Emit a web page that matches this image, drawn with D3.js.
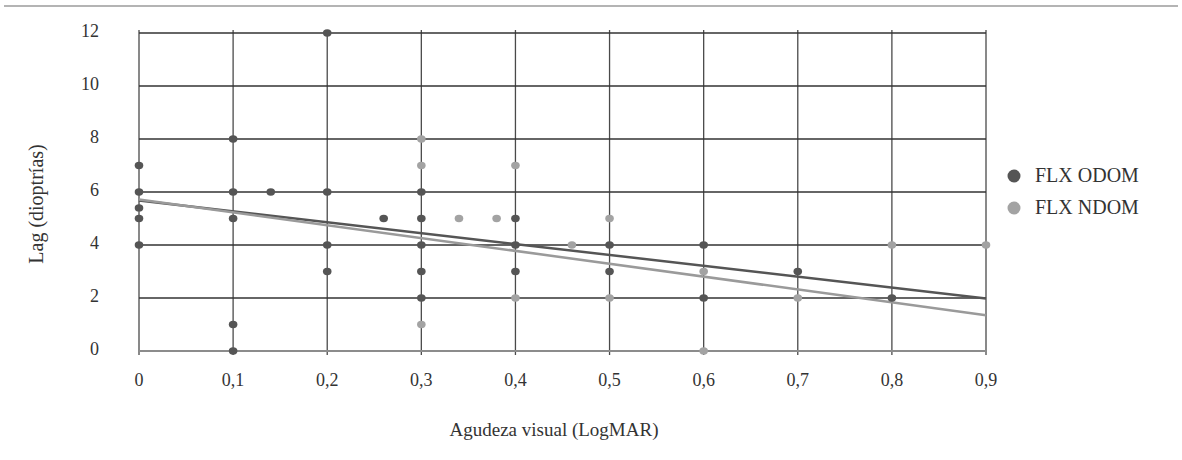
<!DOCTYPE html>
<html>
<head>
<meta charset="utf-8">
<script src="https://cdn.jsdelivr.net/npm/d3@7"></script>
<style>
  body { margin: 0; background: #fff; }
</style>
</head>
<body>
<script>
const width = 1182;
const height = 460;
const FONT = "Liberation Serif";

// FLX ODOM (dark points)
const odomX = [0, 0, 0, 0, 0, 0.1, 0.1, 0.1, 0.1, 0.1, 0.14, 0.2, 0.2, 0.2, 0.2, 0.26,
               0.3, 0.3, 0.3, 0.3, 0.3, 0.4, 0.4, 0.4, 0.5, 0.5, 0.6, 0.6, 0.7, 0.8];
const odomY = [7, 6, 5.4, 5, 4, 8, 6, 5, 1, 0, 6, 12, 6, 4, 3, 5,
               6, 5, 4, 3, 2, 5, 4, 3, 4, 3, 4, 2, 3, 2];
// FLX NDOM (light points)
const ndomX = [0.3, 0.3, 0.3, 0.34, 0.38, 0.4, 0.4, 0.46, 0.5, 0.5, 0.6, 0.6, 0.7, 0.8, 0.9];
const ndomY = [8, 7, 1, 5, 5, 7, 2, 4, 5, 2, 3, 0, 2, 4, 4];

// trend lines: [x, y] at both ends
const odomTrend = [[0, 5.68], [0.9, 1.98]];
const ndomTrend = [[0, 5.72], [0.9, 1.35]];

const xTicks = [0, 0.1, 0.2, 0.3, 0.4, 0.5, 0.6, 0.7, 0.8, 0.9];
const yTicks = [0, 2, 4, 6, 8, 10, 12];
const seriesNames = ['FLX ODOM', 'FLX NDOM'];
const colors = ['#555555', '#a3a3a3'];

const svg = d3.select('body').append('svg').attr('width', width).attr('height', height)
  .style('font-family', FONT);

// thin rule at the top
svg.append('line')
  .attr('x1', 4).attr('x2', 1178).attr('y1', 6).attr('y2', 6)
  .style('stroke', '#b4b4b4').style('stroke-width', 2);

const xs = d3.scaleLinear().domain([0, 0.9]).range([139, 986]);
const ys = d3.scaleLinear().domain([0, 12]).range([351, 33]);
const fmt = d => d === 0 ? '0' : d3.format('.1f')(d).replace('.', ',');

const g = svg.append('g');

// vertical grid lines
g.selectAll('.vgrid')
  .data(xTicks)
  .enter()
  .append('line')
  .attr('class', 'vgrid')
  .attr('x1', d => xs(d)).attr('x2', d => xs(d))
  .attr('y1', ys(12) - 3).attr('y2', ys(0) + 4)
  .style('stroke', '#4a4a4a').style('stroke-width', 1.3);

// horizontal grid lines
g.selectAll('.hgrid')
  .data(yTicks.filter(d => d > 0))
  .enter()
  .append('line')
  .attr('class', 'hgrid')
  .attr('x1', xs(0)).attr('x2', xs(0.9))
  .attr('y1', d => ys(d)).attr('y2', d => ys(d))
  .style('stroke', '#333').style('stroke-width', 1.3);

// bottom axis line
g.append('line')
  .attr('x1', xs(0)).attr('x2', xs(0.9))
  .attr('y1', ys(0)).attr('y2', ys(0))
  .style('stroke', '#8c8c8c').style('stroke-width', 2);

// tick labels
g.selectAll('.xlab')
  .data(xTicks)
  .enter()
  .append('text')
  .attr('x', d => xs(d))
  .attr('y', 386)
  .attr('text-anchor', 'middle')
  .style('font-family', FONT)
  .style('font-size', '18px')
  .style('fill', '#333')
  .text(fmt);

g.selectAll('.ylab')
  .data(yTicks)
  .enter()
  .append('text')
  .attr('x', 99)
  .attr('y', d => ys(d) + 4)
  .attr('text-anchor', 'end')
  .style('font-family', FONT)
  .style('font-size', '18px')
  .style('fill', '#333')
  .text(d => d);

// axis titles
svg.append('text')
  .attr('x', 554).attr('y', 436)
  .attr('text-anchor', 'middle')
  .style('font-family', FONT)
  .style('font-size', '19px')
  .style('fill', '#333')
  .text('Agudeza visual (LogMAR)');

svg.append('text')
  .attr('transform', 'translate(43,204) rotate(-90)')
  .attr('text-anchor', 'middle')
  .style('font-family', FONT)
  .style('font-size', '20px')
  .style('fill', '#333')
  .text('Lag (dioptrías)');

// trend lines
const line = d3.line().x(d => xs(d[0])).y(d => ys(d[1]));
[odomTrend, ndomTrend].forEach(function(t, i) {
  g.append('path')
    .attr('d', line(t))
    .style('fill', 'none')
    .style('stroke', i === 0 ? '#555555' : '#9a9a9a')
    .style('stroke-width', 2.5);
});

// points
function drawPoints(xv, yv, col) {
  g.selectAll(null)
    .data(xv.map((x, i) => ({x: x, y: yv[i]})))
    .enter()
    .append('ellipse')
    .attr('cx', d => xs(d.x))
    .attr('cy', d => ys(d.y))
    .attr('rx', 4.3).attr('ry', 3.7)
    .style('fill', col);
}
drawPoints(ndomX, ndomY, colors[1]);
drawPoints(odomX, odomY, colors[0]);

// legend
const leg = svg.append('g');
leg.selectAll('circle')
  .data(seriesNames)
  .enter()
  .append('circle')
  .attr('cx', 1014)
  .attr('cy', (d, i) => 176 + i * 32)
  .attr('r', 6.5)
  .style('fill', (d, i) => colors[i]);
leg.selectAll('text')
  .data(seriesNames)
  .enter()
  .append('text')
  .attr('x', 1035)
  .attr('y', (d, i) => 182 + i * 32)
  .style('font-family', FONT)
  .style('font-size', '20px')
  .style('fill', '#333')
  .text(d => d);
</script>
</body>
</html>
